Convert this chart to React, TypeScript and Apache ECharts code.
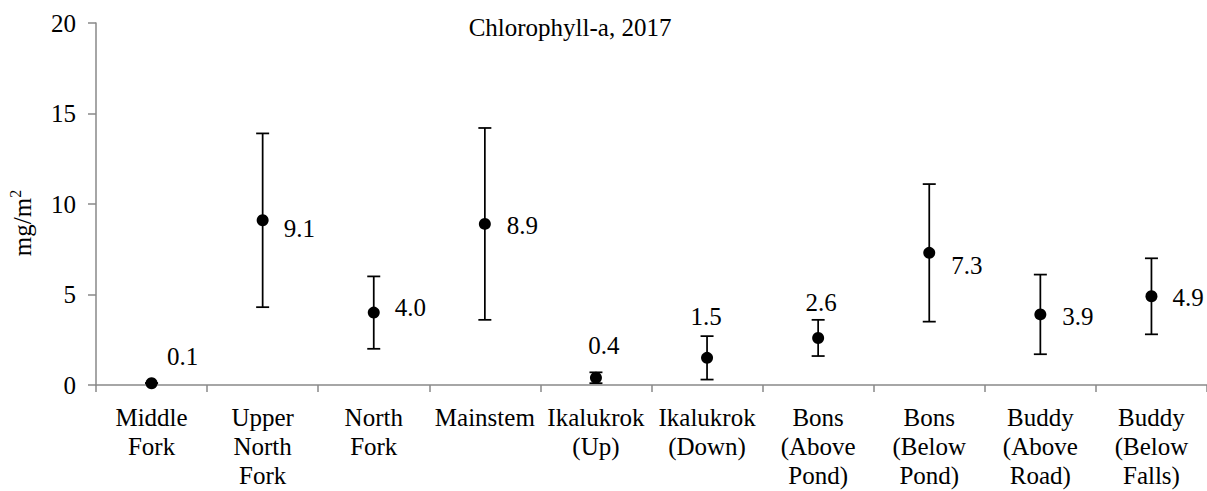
import React, { useEffect, useRef } from "react";
import * as echarts from "echarts";

const categories = [
  "Middle\nFork",
  "Upper\nNorth\nFork",
  "North\nFork",
  "Mainstem",
  "Ikalukrok\n(Up)",
  "Ikalukrok\n(Down)",
  "Bons\n(Above\nPond)",
  "Bons\n(Below\nPond)",
  "Buddy\n(Above\nRoad)",
  "Buddy\n(Below\nFalls)",
];
const means = [0.1, 9.1, 4.0, 8.9, 0.4, 1.5, 2.6, 7.3, 3.9, 4.9];
const errors = [0, 4.8, 2.0, 5.3, 0.3, 1.2, 1.0, 3.8, 2.2, 2.1];
const yTicks = [0, 5, 10, 15, 20];
const titleText = "Chlorophyll-a, 2017";

// label placement relative to point centre (style only)
const labelPlacement = [
  { align: "center", dx: 31, dy: -27 },
  { align: "left", dx: 21, dy: 8 },
  { align: "left", dx: 21, dy: -5 },
  { align: "left", dx: 22, dy: 2 },
  { align: "center", dx: 8, dy: -32 },
  { align: "center", dx: -1, dy: -41 },
  { align: "center", dx: 3, dy: -35 },
  { align: "left", dx: 22, dy: 13 },
  { align: "left", dx: 22, dy: 2 },
  { align: "left", dx: 21, dy: 1 },
];

const FONT = "Liberation Serif";
const SYM = 12;

export default function App() {
  const ref = useRef<HTMLDivElement>(null);
  useEffect(() => {
    if (!ref.current) return;
    const chart = echarts.init(ref.current, undefined, { renderer: "svg" });
    const scatterData = means.map((v, i) => {
      const p = labelPlacement[i];
      return {
        value: [i, v],
        label: {
          show: true,
          position: [SYM / 2 + p.dx, SYM / 2 + p.dy],
          align: p.align,
          verticalAlign: "middle",
          formatter: v.toFixed(1),
          fontFamily: FONT,
          fontSize: 25,
          color: "#000",
        },
      };
    });
    const errData = means.map((v, i) => [i, v - errors[i], v + errors[i]]);
    chart.setOption({
      animation: false,
      backgroundColor: "#ffffff",
      textStyle: { fontFamily: FONT, fontSize: 25 },
      grid: { left: 96, top: 23, width: 1112, height: 362, containLabel: false },
      xAxis: {
        type: "category",
        data: categories,
        boundaryGap: true,
        axisLine: { show: true, lineStyle: { color: "#898989", width: 1.5 } },
        axisTick: { show: true, length: 7, lineStyle: { color: "#898989", width: 1.5 } },
        axisLabel: {
          interval: 0,
          margin: 18,
          color: "#000",
          fontFamily: FONT,
          fontSize: 25,
          lineHeight: 29,
          align: "center",
        },
        splitLine: { show: false },
      },
      yAxis: {
        type: "value",
        min: yTicks[0],
        max: yTicks[yTicks.length - 1],
        interval: yTicks[1] - yTicks[0],
        axisLine: { show: true, lineStyle: { color: "#898989", width: 1.5 } },
        axisTick: { show: true, length: 8, lineStyle: { color: "#898989", width: 1.5 } },
        axisLabel: { margin: 20, color: "#000", fontFamily: FONT, fontSize: 25 },
        splitLine: { show: false },
      },
      graphic: [
        {
          type: "text",
          x: 570,
          y: 27,
          style: {
            text: titleText,
            fill: "#000",
            fontFamily: FONT,
            fontSize: 25,
            align: "center",
            verticalAlign: "middle",
          },
        },
        {
          type: "text",
          x: 22,
          y: 223,
          rotation: Math.PI / 2,
          style: {
            text: "{a|mg/m}{b|2}",
            fill: "#000",
            fontFamily: FONT,
            fontSize: 25,
            align: "center",
            verticalAlign: "middle",
            rich: {
              a: { fontFamily: FONT, fontSize: 25, fill: "#000", lineHeight: 29 },
              b: { fontFamily: FONT, fontSize: 16, fill: "#000", verticalAlign: "top", lineHeight: 16 },
            },
          },
        },
      ],
      series: [
        {
          type: "custom",
          data: errData,
          z: 2,
          renderItem: (params: any, api: any) => {
            const x = api.value(0);
            const lo = api.coord([x, api.value(1)]);
            const hi = api.coord([x, api.value(2)]);
            const hw = 6.5;
            const style = { stroke: "#000", lineWidth: 1.75 };
            return {
              type: "group",
              children: [
                { type: "line", shape: { x1: lo[0], y1: lo[1], x2: hi[0], y2: hi[1] }, style },
                { type: "line", shape: { x1: hi[0] - hw, y1: hi[1], x2: hi[0] + hw, y2: hi[1] }, style },
                { type: "line", shape: { x1: lo[0] - hw, y1: lo[1], x2: lo[0] + hw, y2: lo[1] }, style },
              ],
            };
          },
        },
        {
          type: "scatter",
          data: scatterData,
          symbol: "circle",
          symbolSize: SYM,
          z: 3,
          itemStyle: { color: "#000", opacity: 1 },
          label: { color: "#000", fontFamily: FONT, fontSize: 25 },
          emphasis: { disabled: true },
        },
      ],
    });
    return () => chart.dispose();
  }, []);
  return (
    <div
      ref={ref}
      style={{ position: "fixed", left: 0, top: 0, width: 1207, height: 491, background: "#fff" }}
    />
  );
}
